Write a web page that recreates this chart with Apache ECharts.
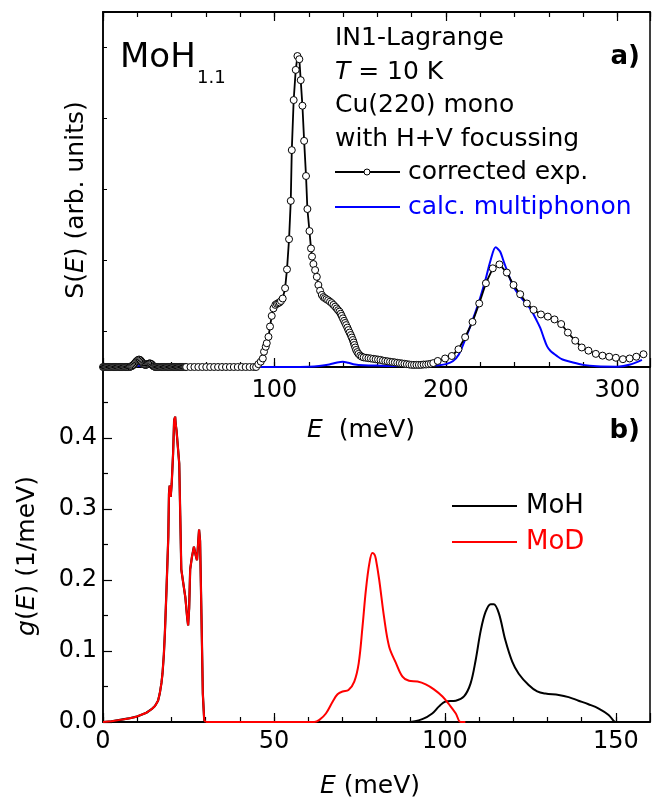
<!DOCTYPE html>
<html>
<head>
<meta charset="utf-8">
<script src="https://cdn.jsdelivr.net/npm/echarts@6/dist/echarts.min.js"></script>
<style>
  html, body { margin: 0; padding: 0; background: #fff; }
  #chart { width: 652px; height: 800px; }
</style>
</head>
<body>
<div id="chart"></div>
<script>
var FONT = 'DejaVu Sans';

// a) corrected experimental S(E), [E (meV), arb. units]
// dense low energy part of the scan
var expLow = [
  [0,0],[0.5,0],[1,0],[1.5,0],[2,0],[2.5,0],[3,0],[3.5,0],[4,0],[4.5,0],
  [5,0],[5.5,0],[6,0],[6.5,0],[7,0],[7.5,0],[8,0],[8.5,0],[9,0],[9.5,0],
  [10,0],[10.5,0],[11,0],[11.5,0],[12,0],[12.5,0],[13,0],[13.5,0],[14,0],[14.5,0],
  [15,0],[15.5,0],[16,0.001],[16.5,0.002],[17,0.003],[17.5,0.005],[18,0.007],[18.5,0.010],[19,0.013],[19.5,0.016],
  [20,0.018],[20.5,0.020],[21,0.021],[21.5,0.020],[22,0.018],[22.5,0.015],[23,0.012],[23.5,0.009],[24,0.007],[24.5,0.006],
  [25,0.006],[25.5,0.007],[26,0.008],[26.5,0.009],[27,0.010],[27.5,0.010],[28,0.009],[28.5,0.007],[29,0.004],[29.5,0.002],
  [30,0.001],[30.5,0],[31,0],[31.5,0],[32,0],[32.5,0],[33,0],[33.5,0],[34,0],[34.5,0],
  [35,0],[35.5,0],[36,0],[36.5,0],[37,0],[37.5,0],[38,0],[38.5,0],[39,0],[39.5,0],
  [40,0],[40.5,0],[41,0],[41.5,0],[42,0],[42.5,0],[43,0],[43.5,0],[44,0],[44.5,0],
  [45,0],[45.5,0],[46,0],[46.5,0],[47,0],[47.5,0],[48,0],[48.5,0]
];
// coarser part of the scan
var expScan = [
  [51,0],[53.3,0],[55.6,0],[57.9,0],[60.2,0],[62.5,0],[64.8,0],[67.1,0],[69.4,0],[71.7,0],
  [74,0],[76.3,0],[78.6,0],[80.9,0],[83.2,0],[85.5,0],[87.8,0],
  [89.3,0],[90.6,0.008],[92,0.015],[93.2,0.024],[93.9,0.043],[94.9,0.057],[95.5,0.067],[96.5,0.085],
  [97.4,0.114],[98.4,0.144],[99.4,0.165],[100.5,0.175],[101.4,0.178],[102.2,0.18],[103,0.182],[103.8,0.186],
  [104.8,0.193],[106.2,0.222],[107.3,0.275],[108.5,0.36],[109.5,0.468],[110.1,0.611],[111.2,0.752],[112.4,0.837],
  [113.4,0.876],[114.5,0.867],[115.3,0.808],[116.3,0.736],[117.3,0.637],[118.4,0.538],[119.2,0.445],[120.4,0.383],
  [121.3,0.334],[121.9,0.311],[122.7,0.29],[123.7,0.273],[124.7,0.254],[125.6,0.231],[126.6,0.215],[127.6,0.203],
  [128.5,0.197],[129.4,0.194],[130.3,0.191],[131.3,0.188],[132.4,0.184],[133.4,0.18],[134.4,0.175],[135.4,0.17],
  [136.3,0.165],[137.1,0.16],[137.9,0.156],[138.6,0.15],[139.2,0.144],[139.9,0.137],[140.6,0.13],[141.2,0.124],
  [141.8,0.118],[142.5,0.111],[143.1,0.104],[143.8,0.097],[144.5,0.09],[145.1,0.083],[145.7,0.076],[146.2,0.069],
  [146.6,0.062],[147.1,0.055],[147.6,0.048],[148.3,0.042],[149,0.037],[150,0.032],[150.9,0.029],[152,0.027],
  [153.4,0.026],[154.8,0.025],[156.2,0.024],[157.6,0.023],[159,0.022],[160.4,0.021],[161.8,0.02],[163.2,0.018],
  [164.6,0.017],[166,0.016],[167.4,0.015],[168.8,0.014],[170.2,0.013],[171.6,0.012],[173,0.011],[174.4,0.01],
  [175.8,0.009],[177.2,0.008],[178.6,0.007],[180,0.006],[181.4,0.006],[182.8,0.006],[184.2,0.006],[185.6,0.006],
  [187,0.007],[188.4,0.007],[189.8,0.008],[191.2,0.009],[192.6,0.011],[195.2,0.017],[199.5,0.024],[203.4,0.031],
  [207.3,0.05],[211.2,0.084],[215.5,0.127],[219.4,0.179],[223.3,0.236],[227.3,0.278],[231.2,0.289],[235.5,0.266],
  [239.4,0.231],[243.3,0.205],[247.2,0.179],[251.1,0.161],[255.4,0.148],[259.4,0.142],[263.3,0.134],[267.2,0.121],
  [271.1,0.097],[275.4,0.074],[279.2,0.055],[283.1,0.046],[287.4,0.037],[291.3,0.032],[295.2,0.029],[299.1,0.026],
  [303.2,0.022],[307.1,0.024],[311,0.029],[315.2,0.036]
];
// calculated multiphonon contribution
var calcMulti = [
  [0,0],[15,0],[18,0.002],[21,0.004],[24,0.002],[28,0.003],[31,0],[60,0],[90,0],[110,0],
  [120,0.001],[126,0.003],[132,0.007],[136,0.012],[139.8,0.015],[143,0.012],[147,0.007],[152,0.005],
  [160,0.004],[175,0.003],[190,0.003],[196,0.005],[200,0.008],[204,0.016],[207.5,0.035],[211,0.075],
  [215,0.125],[219,0.18],[223,0.245],[226,0.3],[229,0.337],[231.6,0.325],[233.5,0.3],[235.5,0.273],
  [239.4,0.226],[244.2,0.193],[249.1,0.165],[253,0.13],[255,0.11],[257,0.083],[259,0.058],[261,0.045],
  [265,0.03],[268,0.021],[272.4,0.015],[280,0.006],[288,0.002],[300,0.001],[307.5,0.007],[314.3,0.02]
];

// b) g(E) in 1/meV, acoustic band shared by MoH and MoD
var acoustic = [
  [0,0],[2.5,0.001],[5,0.003],[7.5,0.005],[9.8,0.0075],[12.7,0.013],[14.2,0.018],[15.2,0.0225],
  [16.1,0.03],[16.6,0.04],[17.1,0.055],[17.4,0.068],[17.8,0.095],[18.1,0.125],[18.6,0.19],[19.1,0.261],
  [19.3,0.322],[19.5,0.333],[19.8,0.317],[20.1,0.336],[20.5,0.378],[20.8,0.425],[21.1,0.43],[21.3,0.418],
  [21.5,0.411],[21.9,0.41],[22.3,0.364],[22.6,0.29],[22.9,0.215],[23.5,0.195],[24.1,0.175],[24.6,0.148],
  [24.9,0.136],[25.2,0.16],[25.5,0.215],[26,0.232],[26.6,0.247],[27.1,0.235],[27.5,0.228],[27.8,0.25],
  [28.1,0.271],[28.4,0.255],[28.8,0.15],[29.2,0.04],[29.6,0.003],[30,0]
];
// optical bands
var mohOptic = [
  [30,0],[89.5,0],[93.4,0.004],[96.3,0.012],[98.3,0.022],[100.2,0.029],[103.2,0.03],[105.6,0.036],[107.5,0.054],
  [109,0.087],[110.5,0.129],[111.9,0.155],[113.4,0.166],[114.3,0.166],[115.8,0.153],[117.7,0.115],[119.7,0.085],
  [121.6,0.068],[124.5,0.052],[127,0.043],[129.4,0.04],[133.3,0.038],[136.2,0.035],[139.1,0.03],[142,0.025],
  [145,0.019],[147.9,0.01],[149.3,0.002],[149.8,0]
];
var modOptic = [
  [30,0],[57.5,0],[61.8,0],[63.3,0.003],[65.2,0.012],[67.2,0.029],[68.6,0.039],[70.1,0.043],[71.8,0.045],
  [73.5,0.057],[74.8,0.083],[75.9,0.134],[76.9,0.186],[77.9,0.223],[78.8,0.238],[79.4,0.236],[79.8,0.23],
  [80.8,0.2],[82.2,0.148],[83.7,0.106],[85.7,0.083],[87.6,0.064],[89.5,0.058],[92,0.057],[94.4,0.053],
  [96.8,0.046],[99.3,0.036],[101.2,0.025],[103.2,0.012],[104.6,0],[106,0]
];

// tick labels
var aLabels = [100, 200, 300];
var bLabels = [0, 50, 100, 150];
var gLabels = ['0.0', '0.1', '0.2', '0.3', '0.4'];
var aSideTicks = [0.1, 0.3, 0.5, 0.7, 0.9];

var chart = echarts.init(document.getElementById('chart'));

var labelFont = { fontFamily: FONT, fontSize: 24, color: '#000' };
var blackLine = { color: '#000', width: 1.5 };

function xAx(grid, pos, max, interval, len, labels, margin) {
  return {
    type: 'value', gridIndex: grid, position: pos, min: 0, max: max, interval: interval,
    splitLine: { show: false },
    axisLine: { show: true, onZero: false, lineStyle: blackLine },
    axisTick: { show: true, inside: true, length: len, lineStyle: { color: '#000', width: 1.2 } },
    axisLabel: labels ? Object.assign({
      margin: margin, showMaxLabel: false,
      formatter: function (v) { return labels.indexOf(v) >= 0 ? String(v) : ''; }
    }, labelFont) : { show: false }
  };
}

function txt(x, y, text, size, color, extra) {
  var rich = { i: { fontFamily: FONT, fontSize: size, fontStyle: 'italic', fill: color } };
  return Object.assign({ type: 'text', x: x, y: y,
    style: { text: text, fontFamily: FONT, fontSize: size, fill: color, align: 'left', verticalAlign: 'middle', rich: rich }
  }, extra || {});
}

var option = {
  animation: false,
  backgroundColor: '#fff',
  grid: [
    { left: 103, top: 12, width: 547, height: 355, show: true, borderColor: '#000', borderWidth: 1.5 },
    { left: 103, top: 367, width: 547, height: 355, show: true, borderColor: '#000', borderWidth: 1.5 }
  ],
  xAxis: [
    xAx(0, 'bottom', 319, 20, 5, aLabels, 12),
    xAx(0, 'bottom', 319, 100, 9, null),
    xAx(0, 'top', 319, 20, 5, null),
    xAx(0, 'top', 319, 100, 9, null),
    xAx(1, 'bottom', 160, 10, 5, bLabels, 8),
    xAx(1, 'bottom', 160, 50, 9, null)
  ],
  yAxis: [
    {
      type: 'value', gridIndex: 0, min: 0, max: 1,
      splitLine: { show: false },
      axisLine: { show: true, lineStyle: blackLine },
      axisTick: { show: true, inside: true, length: 4, customValues: aSideTicks,
        lineStyle: { color: '#000', width: 1 } },
      axisLabel: { show: false }
    },
    {
      type: 'value', gridIndex: 1, min: 0, max: 0.5, interval: 0.1,
      splitLine: { show: false },
      axisLine: { show: true, lineStyle: blackLine },
      axisTick: { show: true, inside: true, length: 9, lineStyle: { color: '#000', width: 1.2 } },
      minorTick: { show: true, splitNumber: 2, length: 5, lineStyle: { color: '#000', width: 1.2 } },
      axisLabel: Object.assign({
        margin: 6,
        formatter: function (v) { var s = v.toFixed(1); return gLabels.indexOf(s) >= 0 ? s : ''; }
      }, labelFont)
    }
  ],
  series: [
    {
      name: 'calc. multiphonon', type: 'line', xAxisIndex: 0, yAxisIndex: 0,
      data: calcMulti, showSymbol: false, smooth: 0.3, clip: false, z: 2,
      lineStyle: { color: '#0000ff', width: 2 }
    },
    {
      name: 'corrected exp.', type: 'line', xAxisIndex: 0, yAxisIndex: 0,
      data: expLow.concat(expScan), symbol: 'circle', symbolSize: 7, showAllSymbol: true,
      clip: false, z: 3,
      lineStyle: { color: '#000', width: 1.8 },
      itemStyle: { color: '#fff', borderColor: '#000', borderWidth: 1 }
    },
    {
      name: 'MoH', type: 'line', xAxisIndex: 4, yAxisIndex: 1,
      data: acoustic, showSymbol: false, clip: false, z: 2,
      lineStyle: { color: '#000', width: 2.2 }
    },
    {
      name: 'MoH', type: 'line', xAxisIndex: 4, yAxisIndex: 1,
      data: mohOptic, showSymbol: false, smooth: 0.35, clip: false, z: 2,
      lineStyle: { color: '#000', width: 2 }
    },
    {
      name: 'MoD', type: 'line', xAxisIndex: 4, yAxisIndex: 1,
      data: acoustic, showSymbol: false, clip: false, z: 3,
      lineStyle: { color: '#ff0000', width: 2 }
    },
    {
      name: 'MoD', type: 'line', xAxisIndex: 4, yAxisIndex: 1,
      data: modOptic, showSymbol: false, smooth: 0.35, clip: false, z: 3,
      lineStyle: { color: '#ff0000', width: 2 }
    }
  ],
  graphic: [
    txt(120, 58, 'MoH', 34, '#000'),
    txt(197, 78, '1.1', 18, '#000'),
    txt(335, 38, 'IN1-Lagrange', 25, '#000'),
    txt(335, 72, '{i|T} = 10 K', 25, '#000'),
    txt(335, 105, 'Cu(220) mono', 25, '#000'),
    txt(335, 139, 'with H+V focussing', 25, '#000'),
    { type: 'line', shape: { x1: 335, y1: 172, x2: 400, y2: 172 }, style: { stroke: '#000', lineWidth: 1.8 } },
    { type: 'circle', shape: { cx: 367, cy: 172, r: 3 }, style: { fill: '#fff', stroke: '#000', lineWidth: 1 } },
    txt(408, 172, 'corrected exp.', 25, '#000'),
    { type: 'line', shape: { x1: 335, y1: 207, x2: 400, y2: 207 }, style: { stroke: '#0000ff', lineWidth: 2 } },
    txt(408, 207, 'calc. multiphonon', 25, '#0000ff'),
    { type: 'text', x: 640, y: 57, style: { text: 'a)', fontFamily: FONT, fontSize: 26, fontWeight: 'bold', fill: '#000', align: 'right', verticalAlign: 'middle' } },
    { type: 'text', x: 640, y: 431, style: { text: 'b)', fontFamily: FONT, fontSize: 26, fontWeight: 'bold', fill: '#000', align: 'right', verticalAlign: 'middle' } },
    { type: 'line', shape: { x1: 452, y1: 506, x2: 517, y2: 506 }, style: { stroke: '#000', lineWidth: 2 } },
    txt(526, 506, 'MoH', 26, '#000'),
    { type: 'line', shape: { x1: 452, y1: 542, x2: 517, y2: 542 }, style: { stroke: '#ff0000', lineWidth: 2 } },
    txt(526, 542, 'MoD', 26, '#ff0000'),
    txt(307, 430, '{i|E}  (meV)', 25, '#000'),
    txt(320, 786, '{i|E} (meV)', 25, '#000'),
    txt(76, 200, 'S({i|E}) (arb. units)', 25, '#000', { rotation: Math.PI / 2 }),
    txt(27, 556, '{i|g}({i|E}) (1/meV)', 25, '#000', { rotation: Math.PI / 2 })
  ]
};
// rotated axis titles are centred on their anchor
option.graphic[option.graphic.length - 1].style.align = 'center';
option.graphic[option.graphic.length - 2].style.align = 'center';

chart.setOption(option);
</script>
</body>
</html>
